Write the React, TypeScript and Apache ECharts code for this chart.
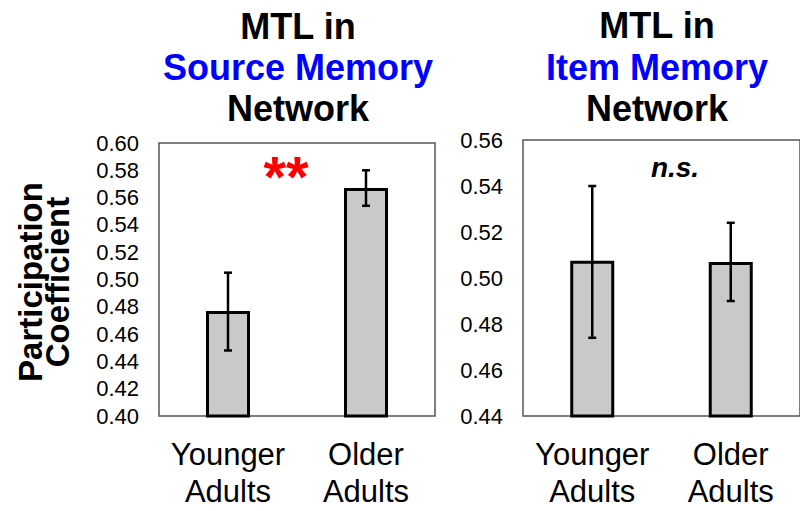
import React, { useEffect, useRef } from "react";
import * as echarts from "echarts";

const categories = ["Younger\nAdults", "Older\nAdults"];
const sourceMeans = [0.477, 0.567];
const sourceLow = [0.448, 0.554];
const sourceHigh = [0.505, 0.58];
const itemMeans = [0.5075, 0.507];
const itemLow = [0.474, 0.49];
const itemHigh = [0.54, 0.524];
const sourceTicks = { min: 0.4, max: 0.6, interval: 0.02 };
const itemTicks = { min: 0.44, max: 0.56, interval: 0.02 };

const FONT = "'Liberation Sans', Arial, sans-serif";

function errorSeries(idx: number, low: number[], high: number[]) {
  return {
    type: "custom",
    xAxisIndex: idx,
    yAxisIndex: idx,
    z: 5,
    data: low.map((l, i) => [i, l, high[i]]),
    renderItem: (params: any, api: any) => {
      const x = api.value(0);
      const lo = api.coord([x, api.value(1)]);
      const hi = api.coord([x, api.value(2)]);
      const cap = 4;
      const style = { stroke: "#000", lineWidth: 2.5 };
      return {
        type: "group",
        children: [
          { type: "line", shape: { x1: lo[0], y1: lo[1], x2: hi[0], y2: hi[1] }, style },
          { type: "line", shape: { x1: hi[0] - cap, y1: hi[1], x2: hi[0] + cap, y2: hi[1] }, style },
          { type: "line", shape: { x1: lo[0] - cap, y1: lo[1], x2: lo[0] + cap, y2: lo[1] }, style },
        ],
      };
    },
  };
}

function barSeries(idx: number, values: number[]) {
  return {
    type: "bar",
    xAxisIndex: idx,
    yAxisIndex: idx,
    data: values,
    barWidth: 44,
    itemStyle: { color: "#c9c9c9", borderColor: "#000", borderWidth: 3 },
  };
}

function yAxis(idx: number, t: { min: number; max: number; interval: number }) {
  return {
    type: "value",
    gridIndex: idx,
    min: t.min,
    max: t.max,
    interval: t.interval,
    axisLine: { show: false },
    axisTick: { show: false },
    splitLine: { show: false },
    axisLabel: {
      margin: 20,
      color: "#000",
      fontSize: 22,
      fontFamily: FONT,
      formatter: (v: number) => v.toFixed(2),
    },
  };
}

function xAxis(idx: number) {
  return {
    type: "category",
    gridIndex: idx,
    data: categories,
    axisLine: { show: false },
    axisTick: { show: false },
    axisLabel: {
      interval: 0,
      hideOverlap: false,
      margin: 20,
      color: "#000",
      fontSize: 31,
      lineHeight: 37,
      fontFamily: FONT,
    },
  };
}

function titleText(x: number, y: number, text: string, color: string) {
  return {
    type: "text",
    x,
    y,
    style: {
      text,
      fill: color,
      font: `bold 36px ${FONT}`,
      textAlign: "center",
      textVerticalAlign: "middle",
    },
  };
}

export default function App() {
  const ref = useRef<HTMLDivElement>(null);
  useEffect(() => {
    if (!ref.current) return;
    const chart = echarts.init(ref.current, undefined, { renderer: "svg" });
    chart.setOption({
      animation: false,
      backgroundColor: "#fff",
      grid: [
        { left: 159, top: 143, width: 276, height: 273, show: true, borderColor: "#555", borderWidth: 1.5, backgroundColor: "transparent" },
        { left: 523, top: 140, width: 278, height: 276, show: true, borderColor: "#555", borderWidth: 1.5, backgroundColor: "transparent" },
      ],
      xAxis: [xAxis(0), xAxis(1)],
      yAxis: [yAxis(0, sourceTicks), yAxis(1, itemTicks)],
      series: [
        barSeries(0, sourceMeans),
        errorSeries(0, sourceLow, sourceHigh),
        barSeries(1, itemMeans),
        errorSeries(1, itemLow, itemHigh),
      ],
      graphic: [
        titleText(298, 26, "MTL in", "#000"),
        titleText(298, 67, "Source Memory", "#0000ff"),
        titleText(298, 108, "Network", "#000"),
        titleText(657, 25, "MTL in", "#000"),
        titleText(657, 67, "Item Memory", "#0000ff"),
        titleText(657, 108, "Network", "#000"),
        {
          type: "text",
          x: 30,
          y: 282,
          rotation: Math.PI / 2,
          style: { text: "Participation", fill: "#000", font: `bold 33px ${FONT}`, textAlign: "center", textVerticalAlign: "middle" },
        },
        {
          type: "text",
          x: 57,
          y: 282,
          rotation: Math.PI / 2,
          style: { text: "Coefficient", fill: "#000", font: `bold 33px ${FONT}`, textAlign: "center", textVerticalAlign: "middle" },
        },
        {
          type: "text",
          x: 286,
          y: 176,
          style: { text: "**", fill: "#ff0000", font: `bold 58px ${FONT}`, textAlign: "center", textVerticalAlign: "middle" },
        },
        {
          type: "text",
          x: 675,
          y: 167,
          style: { text: "n.s.", fill: "#000", font: `italic bold 28px ${FONT}`, textAlign: "center", textVerticalAlign: "middle" },
        },
      ],
    });
    return () => chart.dispose();
  }, []);
  return <div ref={ref} style={{ position: "fixed", left: 0, top: 0, width: 800, height: 511 }} />;
}
